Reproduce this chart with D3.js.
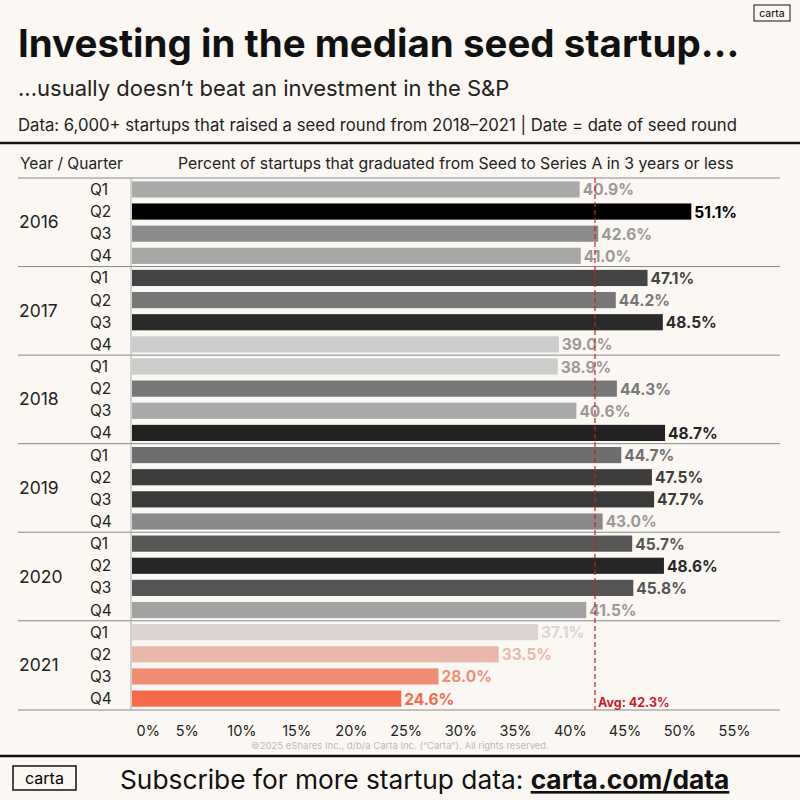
<!DOCTYPE html>
<html><head><meta charset="utf-8">
<script src="https://cdn.jsdelivr.net/npm/d3@7"></script>
<style>body{margin:0;background:#fbf8f3}svg{display:block}</style></head>
<body><svg id="c" width="800" height="800"></svg>
<script>
const years = ["2016","2017","2018","2019","2020","2021"];
const quarters = ["Q1","Q2","Q3","Q4"];
const values = [40.9,51.1,42.6,41.0, 47.1,44.2,48.5,39.0, 38.9,44.3,40.6,48.7, 44.7,47.5,47.7,43.0, 45.7,48.6,45.8,41.5, 37.1,33.5,28.0,24.6];
const average = 42.3;
const ticks = [0,5,10,15,20,25,30,35,40,45,50,55];
const barColors = ["#aaaaaa","#000000","#8c8c8c","#a8a8a8","#444444","#777777","#2b2b2b","#cccccc","#cccccc","#777777","#aaaaaa","#222222","#6e6e6e","#3d3d3d","#3a3a3a","#8a8a8a","#575757","#262626","#555555","#a2a2a2","#ddd4d2","#e8b9aa","#f08e74","#f56a4b"];
const labelColors = barColors.map((c,i)=> i>=20 ? c : (d3.hsl(c).l>0.5 ? "#999999" : c));

const svg = d3.select("#c");
const F = "Inter, 'Open Sans', sans-serif";
svg.append("rect").attr("width",800).attr("height",800).attr("fill","#fbf8f3");
svg.append("text").attr("x",18).attr("y",57).attr("font-family",F).attr("font-weight",700).attr("font-size",38.5).attr("letter-spacing",0).attr("fill","#111").text("Investing in the median seed startup…");
svg.append("text").attr("x",18).attr("y",96).attr("font-family",F).attr("font-size",22).attr("fill","#222").text("...usually doesn’t beat an investment in the S&P");
svg.append("text").attr("x",18).attr("y",131).attr("font-family",F).attr("font-size",16.7).attr("fill","#222").text("Data: 6,000+ startups that raised a seed round from 2018–2021 | Date = date of seed round");
svg.append("rect").attr("x",754).attr("y",5).attr("width",36).attr("height",16).attr("fill","none").attr("stroke","#111");
svg.append("text").attr("x",772).attr("y",17).attr("text-anchor","middle").attr("font-family",F).attr("font-size",10.5).text("carta");
svg.append("line").attr("x1",0).attr("x2",800).attr("y1",143).attr("y2",143).attr("stroke","#111").attr("stroke-width",2.5);
svg.append("text").attr("x",20).attr("y",169).attr("font-family",F).attr("font-size",15.5).attr("fill","#222").text("Year / Quarter");
svg.append("text").attr("x",178).attr("y",169).attr("font-family",F).attr("font-size",15.8).attr("fill","#222").text("Percent of startups that graduated from Seed to Series A in 3 years or less");

const x = d3.scaleLinear().domain([0,55]).range([132,734]);
const rows = values.map((v,i)=>({v,i,year:years[Math.floor(i/4)],q:quarters[i%4]}));
const y = d3.scaleBand().domain(d3.range(24)).range([178,710]).paddingInner(0.27).paddingOuter(0.15);
const step = y.step();

years.forEach((yr,g)=>{
  const top = 178 + g*4*step;
  svg.append("line").attr("x1",18).attr("x2",780).attr("y1",top).attr("y2",top).attr("stroke","#888").attr("stroke-width",1);
  svg.append("text").attr("x",19).attr("y",top+2*step+6).attr("font-family",F).attr("font-size",17.5).attr("fill","#222").text(yr);
});
svg.append("line").attr("x1",18).attr("x2",780).attr("y1",710).attr("y2",710).attr("stroke","#888");
svg.append("line").attr("x1",131).attr("x2",131).attr("y1",178).attr("y2",710).attr("stroke","#aaa");

svg.selectAll(".q").data(rows).join("text").attr("x",90).attr("y",d=>y(d.i)+y.bandwidth()/2+5.5)
  .attr("font-family",F).attr("font-size",15.5).attr("fill","#222").text(d=>d.q);
svg.selectAll(".bar").data(rows).join("rect").attr("x",x(0)).attr("y",d=>y(d.i)).attr("width",d=>x(d.v)-x(0)).attr("height",y.bandwidth()).attr("fill",(d)=>barColors[d.i]);
svg.selectAll(".lab").data(rows).join("text").attr("x",d=>x(d.v)+3).attr("y",d=>y(d.i)+y.bandwidth()/2+6)
  .attr("font-family",F).attr("font-weight",700).attr("font-size",15.5).attr("fill",d=>labelColors[d.i]).text(d=>d.v.toFixed(1)+"%");

svg.append("line").attr("x1",x(average)).attr("x2",x(average)).attr("y1",178).attr("y2",710).attr("stroke","#d0182a").attr("stroke-width",1.2).attr("stroke-dasharray","5,3");
svg.append("text").attr("x",x(average)+3).attr("y",707).attr("font-family",F).attr("font-weight",700).attr("font-size",12.5).attr("fill","#d0182a").text("Avg: "+average+"%");

const ax = svg.append("g").attr("transform","translate(0,712)").call(d3.axisBottom(x).tickValues(ticks).tickSize(0).tickPadding(14).tickFormat(d=>d+"%"));
ax.select(".domain").remove();
ax.selectAll("text").attr("font-family",F).attr("font-size",14.5).attr("fill","#222").attr("text-anchor",d=>d===0?"start":"middle").attr("dx",d=>d===0?4:0);

svg.append("text").attr("x",400).attr("y",749).attr("text-anchor","middle").attr("font-family",F).attr("font-size",9.5).attr("fill","#bbb").text("©2025 eShares Inc., d/b/a Carta Inc. (“Carta”). All rights reserved.");
svg.append("line").attr("x1",0).attr("x2",800).attr("y1",756).attr("y2",756).attr("stroke","#111").attr("stroke-width",2.5);
svg.append("rect").attr("x",13).attr("y",766).attr("width",63).attr("height",24).attr("fill","none").attr("stroke","#111").attr("stroke-width",1.5);
svg.append("text").attr("x",44.5).attr("y",784).attr("text-anchor","middle").attr("font-family",F).attr("font-size",16).text("carta");
const t = svg.append("text").attr("x",120).attr("y",789).attr("font-family",F).attr("font-size",26.3).attr("fill","#111");
t.append("tspan").text("Subscribe for more startup data: ");
t.append("tspan").attr("font-weight",700).attr("text-decoration","underline").text("carta.com/data");
</script></body></html>
